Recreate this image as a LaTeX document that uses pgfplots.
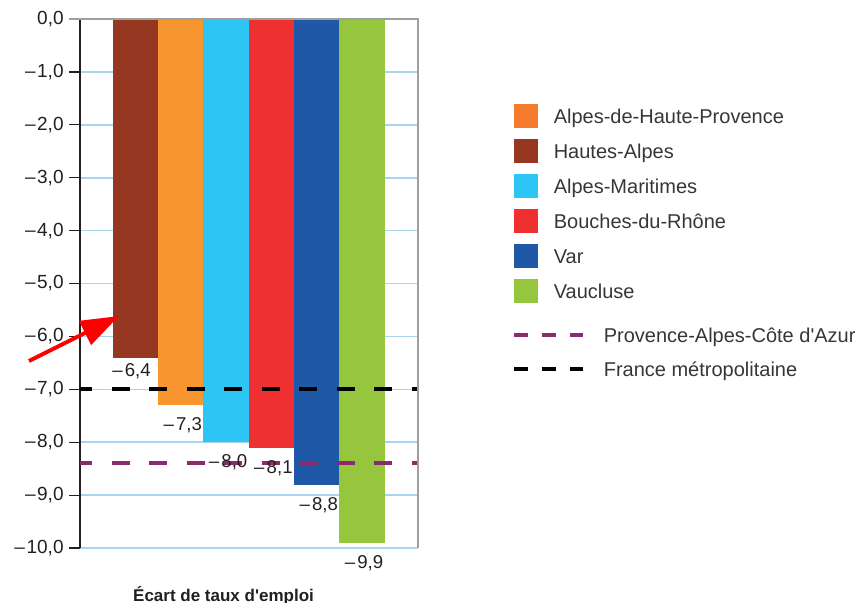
\documentclass[border=0pt]{standalone}
\usepackage{fontspec}
\setmainfont{Liberation Sans}
\usepackage{pgfplots}
\pgfplotsset{compat=1.18}
\usetikzlibrary{arrows.meta}

\definecolor{cBrown}{HTML}{963821}
\definecolor{cOrange}{HTML}{F7962F}
\definecolor{cOrangeL}{HTML}{F47A2C}
\definecolor{cCyan}{HTML}{2DC5F4}
\definecolor{cRed}{HTML}{EE3030}
\definecolor{cBlue}{HTML}{2058A8}
\definecolor{cGreen}{HTML}{96C63E}
\definecolor{cPurple}{HTML}{8C2A70}
\definecolor{cGrid}{HTML}{A8D5F0}
\definecolor{cText}{HTML}{231F20}

\pgfplotsset{
  mybar/.style={ybar, bar shift=0pt, draw=none, fill=#1, forget plot,
    point meta=explicit symbolic,
    nodes near coords={–\kern1.1pt\pgfplotspointmeta}},
  lbl/.style 2 args={every node near coord/.style={anchor=north,
    font=\fontsize{9.3}{11}\selectfont, text=cText, xshift=#1, yshift=#2}},
  sq/.style={legend image code/.code={\fill[#1] (0pt,-5.75pt) rectangle (11.5pt,5.75pt);}},
}

\begin{document}
\begin{tikzpicture}
\path[use as bounding box] (0,0) rectangle (430pt,301pt);
\begin{axis}[
  at={(40pt,27pt)}, anchor=south west,
  scale only axis, width=169pt, height=264.5pt,
  xmin=-1.2252, xmax=6.2362, ymin=-10, ymax=0,
  axis lines=left, axis line style={-},
  x axis line style={draw=none},
  y axis line style={cText, line width=0.6pt},
  xtick=\empty, ytick={-10,-9,...,0},
  yticklabels={{–\kern0.8pt10,0},{–\kern0.8pt9,0},{–\kern0.8pt8,0},{–\kern0.8pt7,0},{–\kern0.8pt6,0},{–\kern0.8pt5,0},{–\kern0.8pt4,0},{–\kern0.8pt3,0},{–\kern0.8pt2,0},{–\kern0.8pt1,0},{0,0}},
  tick align=outside, major tick length=5.5pt,
  tick style={cText, line width=0.6pt},
  ymajorgrids, grid style={cGrid, line width=0.8pt},
  yticklabel style={font=\fontsize{9.5}{11}\selectfont, text=cText, inner xsep=2.5pt},
  ybar, bar width=1, clip=false,
  legend cell align=left,
  legend style={at={(1.284,0.839)}, anchor=north west, draw=none, fill=none,
    inner sep=0pt, outer sep=0pt, row sep=5.6pt, column sep=8pt,
    font=\fontsize{10}{12}\selectfont, text=cText!90,
    nodes={inner sep=0pt, text height=9.35pt, text depth=2.15pt}},
]
% bars, in the order of the legend
\addplot[mybar=cOrange, lbl={1pt}{-2.8pt}] coordinates {(1,-7.3) [7,3]};
\addplot[mybar=cBrown, lbl={-2pt}{0.6pt}] coordinates {(0,-6.4) [6,4]};
\addplot[mybar=cCyan, lbl={1pt}{-2.8pt}] coordinates {(2,-8.0) [8,0]};
\addplot[mybar=cRed, lbl={1pt}{-2.8pt}] coordinates {(3,-8.1) [8,1]};
\addplot[mybar=cBlue, lbl={1pt}{-2.8pt}] coordinates {(4,-8.8) [8,8]};
\addplot[mybar=cGreen, lbl={1pt}{-2.8pt}] coordinates {(5,-9.9) [9,9]};
% reference levels
\addplot[sharp plot, forget plot, cPurple, line width=2pt, dash pattern=on 9pt off 9.75pt, dash phase=3pt]
  coordinates {(-1.2252,-8.4) (6.2362,-8.4)};
\addplot[sharp plot, forget plot, black, line width=2pt, dash pattern=on 9pt off 9.75pt, dash phase=3pt]
  coordinates {(-1.2252,-7) (6.2362,-7)};

\addlegendimage{sq=cOrangeL}
\addlegendentry{Alpes-de-Haute-Provence}
\addlegendimage{sq=cBrown}
\addlegendentry{Hautes-Alpes}
\addlegendimage{sq=cCyan}
\addlegendentry{Alpes-Maritimes}
\addlegendimage{sq=cRed}
\addlegendentry{Bouches-du-Rhône}
\addlegendimage{sq=cBlue}
\addlegendentry{Var}
\addlegendimage{sq=cGreen}
\addlegendentry{Vaucluse}
\addlegendimage{legend image code/.code={\path (0pt,10.25pt) (11.5pt,0pt);
  \draw[overlay, cPurple, line width=2pt, dash pattern=on 6.75pt off 7.125pt] (0pt,0pt) -- (34.5pt,0pt);}}
\addlegendentry{\hspace{25pt}Provence-Alpes-Côte d\textquotesingle Azur}
\addlegendimage{legend image code/.code={\path (0pt,0pt) (11.5pt,0pt);
  \draw[overlay, black, line width=2pt, dash pattern=on 6.75pt off 7.125pt] (0pt,0pt) -- (34.5pt,0pt);}}
\addlegendentry{\hspace{25pt}France métropolitaine}

% frame on top and right
\draw[gray!75, line width=1pt] ([xshift=-5.5pt]rel axis cs:0,1) -- (rel axis cs:1,1) -- (rel axis cs:1,0);
% arrow
\draw[red, line width=2pt, -{Triangle[length=19pt,width=13pt]}]
  (axis cs:-2.351,-6.465) -- (axis cs:-0.364,-5.614);
\node[anchor=base, font=\bfseries\fontsize{8.5}{10}\selectfont, text=cText]
  at (axis cs:1.943,-11.002) {Écart de taux d\textquotesingle emploi};
\end{axis}
\end{tikzpicture}
\end{document}
